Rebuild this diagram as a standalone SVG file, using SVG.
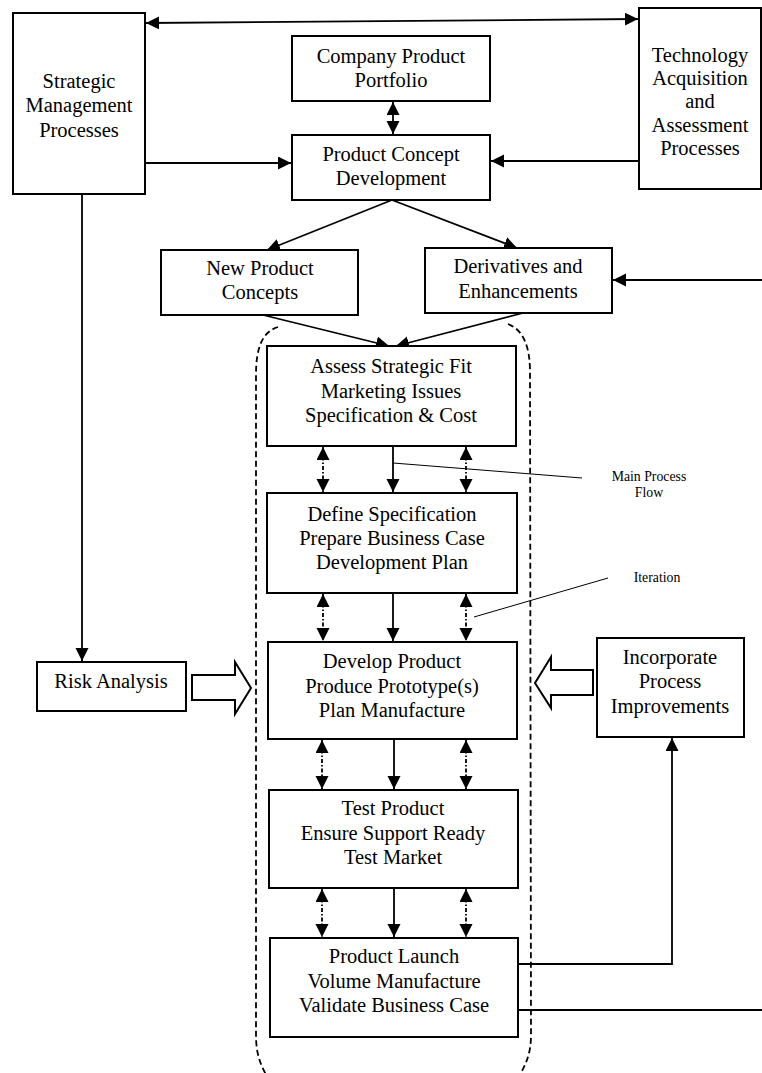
<svg xmlns="http://www.w3.org/2000/svg" width="762" height="1073" viewBox="0 0 762 1073">
<style>
.box{fill:#fff;stroke:#000;stroke-width:2}
.t{font-family:"Liberation Serif","Times New Roman",serif;font-size:20.5px;fill:#000;text-anchor:middle}
.s{font-family:"Liberation Serif","Times New Roman",serif;font-size:13.8px;fill:#000;text-anchor:middle}
.c{fill:none;stroke:#000;stroke-width:1.8}
.d{fill:none;stroke:#000;stroke-width:1.8;stroke-dasharray:4 2 1.5 2}
.ann{fill:none;stroke:#000;stroke-width:1}
.cont{fill:none;stroke:#000;stroke-width:1.8;stroke-dasharray:6 3.5}
.hollow{fill:#fff;stroke:#000;stroke-width:2;stroke-linejoin:miter}
</style>
<defs>
<marker id="ah" markerUnits="userSpaceOnUse" markerWidth="14" markerHeight="14" refX="13" refY="6.5" orient="auto-start-reverse">
<path d="M0,0 L13,6.5 L0,13 z" fill="#000"/>
</marker>
</defs>
<g id="connectors">
<path class="c" d="M146,23 L638,19" marker-start="url(#ah)" marker-end="url(#ah)"/>
<path class="c" d="M393,102 L393,134" marker-start="url(#ah)" marker-end="url(#ah)"/>
<path class="c" d="M145,163 L291,163" marker-end="url(#ah)"/>
<path class="c" d="M638,161 L491,161" marker-end="url(#ah)"/>
<path class="c" d="M392,200 L267,250" marker-end="url(#ah)"/>
<path class="c" d="M392,200 L517,248" marker-end="url(#ah)"/>
<path class="c" d="M762,280 L613,280" marker-end="url(#ah)"/>
<path class="c" d="M263,315 L389,346" marker-end="url(#ah)"/>
<path class="c" d="M523,313 L396,346" marker-end="url(#ah)"/>
<path class="c" d="M82,194 L82,661" marker-end="url(#ah)"/>
<path class="c" d="M393,446 L393,492" marker-end="url(#ah)"/>
<path class="d" d="M323,447 L323,492" marker-start="url(#ah)" marker-end="url(#ah)"/>
<path class="d" d="M466,447 L466,492" marker-start="url(#ah)" marker-end="url(#ah)"/>
<path class="c" d="M393,593 L393,641" marker-end="url(#ah)"/>
<path class="d" d="M323,594 L323,641" marker-start="url(#ah)" marker-end="url(#ah)"/>
<path class="d" d="M466,594 L466,641" marker-start="url(#ah)" marker-end="url(#ah)"/>
<path class="c" d="M394,739 L394,789" marker-end="url(#ah)"/>
<path class="d" d="M322,740 L322,789" marker-start="url(#ah)" marker-end="url(#ah)"/>
<path class="d" d="M466,740 L466,789" marker-start="url(#ah)" marker-end="url(#ah)"/>
<path class="c" d="M394,888 L394,937" marker-end="url(#ah)"/>
<path class="d" d="M322,889 L322,937" marker-start="url(#ah)" marker-end="url(#ah)"/>
<path class="d" d="M466,889 L466,937" marker-start="url(#ah)" marker-end="url(#ah)"/>
<path class="c" d="M518,964 L672,964 L672,738" marker-end="url(#ah)"/>
<path class="c" d="M518,1010 L762,1010"/>
<path class="ann" d="M393,463 L582,478"/>
<path class="ann" d="M608,578 L474,617"/>
<polygon class="hollow" points="192,675 235,675 235,662 251,688 235,714 235,700 192,700"/>
<polygon class="hollow" points="593,670 551,670 551,657 535,683 551,708 551,695 593,695"/>
</g>
<g id="container">
<path class="cont" d="M278,327 C262,332 256,348 256,375 L256,1035 C256,1055 261,1066 268,1078"/>
<path class="cont" d="M508,324 C524,330 530,348 530,372 L531,1035 C531,1055 525,1066 518,1078"/>
</g>
<g id="strategic">
<rect class="box" x="13" y="13" width="132" height="181"/>
<text class="t" x="79" y="88">Strategic</text>
<text class="t" x="79" y="112">Management</text>
<text class="t" x="79" y="137">Processes</text>
</g>
<g id="technology">
<rect class="box" x="639" y="8" width="122" height="181"/>
<text class="t" x="700" y="62">Technology</text>
<text class="t" x="700" y="85">Acquisition</text>
<text class="t" x="700" y="108">and</text>
<text class="t" x="700" y="132">Assessment</text>
<text class="t" x="700" y="155">Processes</text>
</g>
<g id="portfolio">
<rect class="box" x="292" y="36" width="198" height="65"/>
<text class="t" x="391" y="63">Company Product</text>
<text class="t" x="391" y="87">Portfolio</text>
</g>
<g id="concept">
<rect class="box" x="292" y="135" width="198" height="65"/>
<text class="t" x="391" y="161">Product Concept</text>
<text class="t" x="391" y="185">Development</text>
</g>
<g id="newproduct">
<rect class="box" x="161" y="250" width="197" height="65"/>
<text class="t" x="260" y="275">New Product</text>
<text class="t" x="260" y="299">Concepts</text>
</g>
<g id="derivatives">
<rect class="box" x="425" y="248" width="187" height="65"/>
<text class="t" x="518" y="273">Derivatives and</text>
<text class="t" x="518" y="298">Enhancements</text>
</g>
<g id="assess">
<rect class="box" x="267" y="346" width="249" height="100"/>
<text class="t" x="391" y="373">Assess Strategic Fit</text>
<text class="t" x="391" y="398">Marketing Issues</text>
<text class="t" x="391" y="422">Specification &amp; Cost</text>
</g>
<g id="define">
<rect class="box" x="267" y="493" width="250" height="100"/>
<text class="t" x="392" y="521">Define Specification</text>
<text class="t" x="392" y="545">Prepare Business Case</text>
<text class="t" x="392" y="569">Development Plan</text>
</g>
<g id="develop">
<rect class="box" x="268" y="642" width="249" height="97"/>
<text class="t" x="392" y="668">Develop Product</text>
<text class="t" x="392" y="693">Produce Prototype(s)</text>
<text class="t" x="392" y="717">Plan Manufacture</text>
</g>
<g id="test">
<rect class="box" x="269" y="790" width="249" height="98"/>
<text class="t" x="393" y="815">Test Product</text>
<text class="t" x="393" y="840">Ensure Support Ready</text>
<text class="t" x="393" y="864">Test Market</text>
</g>
<g id="launch">
<rect class="box" x="270" y="938" width="248" height="99"/>
<text class="t" x="394" y="963">Product Launch</text>
<text class="t" x="394" y="988">Volume Manufacture</text>
<text class="t" x="394" y="1012">Validate Business Case</text>
</g>
<g id="risk">
<rect class="box" x="37" y="662" width="149" height="49"/>
<text class="t" x="111" y="688">Risk Analysis</text>
</g>
<g id="incorporate">
<rect class="box" x="597" y="638" width="147" height="99"/>
<text class="t" x="670" y="664">Incorporate</text>
<text class="t" x="670" y="688">Process</text>
<text class="t" x="670" y="713">Improvements</text>
</g>
<g id="labels">
<text class="s" x="649" y="481">Main Process</text>
<text class="s" x="649" y="497">Flow</text>
<text class="s" x="657" y="582">Iteration</text>
</g>
</svg>
